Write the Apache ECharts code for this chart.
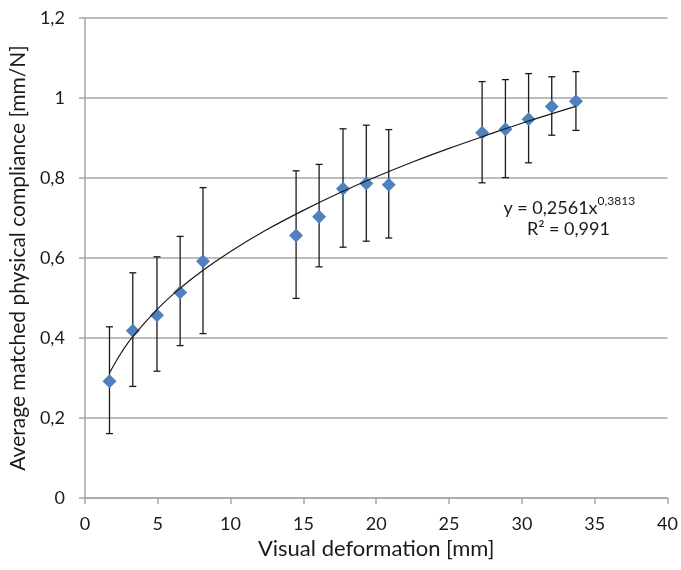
<!DOCTYPE html>
<html>
<head>
<meta charset="utf-8">
<script src="https://cdn.jsdelivr.net/npm/echarts@6/dist/echarts.min.js"></script>
<style>
html,body{margin:0;padding:0;background:#fff;}
#c{width:681px;height:570px;}
</style>
</head>
<body>
<div id="c"></div>
<script>
// Data
const deformation = [1.69, 3.29, 4.95, 6.54, 8.11, 14.5, 16.08, 17.72, 19.32, 20.86, 27.27, 28.87, 30.46, 32.05, 33.71];
const compliance  = [0.292, 0.418, 0.457, 0.514, 0.592, 0.656, 0.703, 0.773, 0.786, 0.783, 0.913, 0.922, 0.947, 0.979, 0.992];
const errLow      = [0.161, 0.279, 0.317, 0.381, 0.411, 0.499, 0.578, 0.627, 0.642, 0.650, 0.788, 0.801, 0.838, 0.907, 0.919];
const errHigh     = [0.428, 0.563, 0.603, 0.654, 0.776, 0.818, 0.834, 0.923, 0.932, 0.921, 1.041, 1.046, 1.061, 1.053, 1.066];
// Trend curve points
const trendX = [1.7, 2.5, 3.3, 5, 6.5, 8, 10, 12.5, 15, 17.5, 20, 22.5, 25, 27.5, 30, 33.7];
const trendY = [0.313, 0.363, 0.404, 0.473, 0.523, 0.566, 0.616, 0.671, 0.719, 0.763, 0.803, 0.840, 0.874, 0.906, 0.937, 0.979];
const xTicks = [0, 5, 10, 15, 20, 25, 30, 35, 40];
const yTickLabels = ['0', '0,2', '0,4', '0,6', '0,8', '1', '1,2'];
const equationText = ['y = 0,2561x', '0,3813', 'R² = 0,991'];

const FONT = 'Lato';
const TXT = '#1a1a1a';
const GRID = '#a6a6a6';

const chart = echarts.init(document.getElementById('c'), null, {renderer: 'canvas'});

const scatterData = deformation.map((x, i) => [x, compliance[i]]);
const errData = deformation.map((x, i) => [x, errLow[i], errHigh[i]]);
const trendData = trendX.map((x, i) => [x, trendY[i]]);

chart.setOption({
  animation: false,
  backgroundColor: '#fff',
  textStyle: {fontFamily: FONT},
  grid: {left: 84, right: 11, top: 18, bottom: 72, containLabel: false},
  xAxis: {
    type: 'value', min: xTicks[0], max: xTicks[xTicks.length - 1], interval: 5,
    name: 'Visual deformation [mm]', nameLocation: 'middle', nameGap: 38,
    nameTextStyle: {fontFamily: FONT, fontSize: 22, color: TXT},
    axisLine: {show: true, lineStyle: {color: GRID, width: 1.5}},
    axisTick: {show: true, inside: false, length: 6, lineStyle: {color: GRID, width: 1.5}},
    axisLabel: {fontFamily: FONT, fontSize: 18, color: TXT, margin: 17},
    splitLine: {show: false}
  },
  yAxis: {
    type: 'value', min: 0, max: 1.2, interval: 0.2,
    name: 'Average matched physical compliance [mm/N]', nameLocation: 'middle', nameGap: 53,
    nameTextStyle: {fontFamily: FONT, fontSize: 21, color: TXT},
    axisLine: {show: true, onZero: false, lineStyle: {color: GRID, width: 1.5}},
    axisTick: {show: true, inside: false, length: 6, lineStyle: {color: GRID, width: 1.5}},
    axisLabel: {fontFamily: FONT, fontSize: 18, color: TXT, margin: 20,
      formatter: (v) => yTickLabels[Math.round(v / 0.2)]},
    splitLine: {show: true, lineStyle: {color: GRID, width: 1.5}}
  },
  series: [
    {
      type: 'custom',
      data: errData,
      z: 2,
      renderItem: function (params, api) {
        const x = api.value(0), lo = api.value(1), hi = api.value(2);
        const pLo = api.coord([x, lo]);
        const pHi = api.coord([x, hi]);
        const h = 3.5;
        const st = {stroke: '#1a1a1a', lineWidth: 1.3};
        return {
          type: 'group',
          children: [
            {type: 'line', shape: {x1: pLo[0], y1: pLo[1], x2: pHi[0], y2: pHi[1]}, style: st},
            {type: 'line', shape: {x1: pLo[0] - h, y1: pLo[1], x2: pLo[0] + h, y2: pLo[1]}, style: st},
            {type: 'line', shape: {x1: pHi[0] - h, y1: pHi[1], x2: pHi[0] + h, y2: pHi[1]}, style: st}
          ]
        };
      }
    },
    {
      type: 'scatter',
      data: scatterData,
      symbol: 'diamond',
      symbolSize: [14, 14],
      itemStyle: {color: '#4F81BD', opacity: 1},
      z: 3
    },
    {
      type: 'line',
      data: trendData,
      smooth: 0.4,
      showSymbol: false,
      symbol: 'none',
      lineStyle: {color: '#1a1a1a', width: 1.2},
      z: 4
    }
  ]
});

function placeEquation() {
  const p1 = chart.convertToPixel({gridIndex: 0}, [33.25, 0.73]);
  const p2 = chart.convertToPixel({gridIndex: 0}, [33.2, 0.672]);
  chart.setOption({
    graphic: [
      {
        type: 'text', x: p1[0], y: p1[1], z: 10,
        style: {
          text: '{a|' + equationText[0] + '}{s|' + equationText[1] + '}',
          align: 'center', verticalAlign: 'middle',
          rich: {
            a: {fontFamily: FONT, fontSize: 18, fill: TXT, color: TXT, lineHeight: 22, verticalAlign: 'bottom'},
            s: {fontFamily: FONT, fontSize: 12, fill: TXT, color: TXT, lineHeight: 22, verticalAlign: 'top'}
          }
        }
      },
      {
        type: 'text', x: p2[0], y: p2[1], z: 10,
        style: {
          text: equationText[2], align: 'center', verticalAlign: 'middle',
          fontFamily: FONT, fontSize: 18, fill: TXT
        }
      }
    ]
  });
}
placeEquation();
</script>
</body>
</html>
